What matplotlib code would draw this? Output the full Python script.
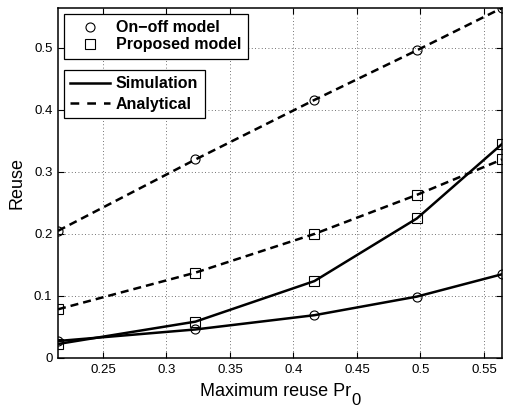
import matplotlib
matplotlib.use("Agg")
import matplotlib.pyplot as plt
from matplotlib.lines import Line2D

plt.rcParams['font.family'] = ['Liberation Sans', 'DejaVu Sans']

x = [0.2146, 0.3228, 0.4165, 0.4972, 0.5642]
onoff_analytical = [0.205, 0.320, 0.416, 0.496, 0.5642]
proposed_analytical = [0.0785, 0.1376, 0.200, 0.263, 0.320]
onoff_simulation = [0.0274, 0.046, 0.069, 0.099, 0.135]
proposed_simulation = [0.0226, 0.0586, 0.124, 0.225, 0.345]

xticks = [0.25, 0.3, 0.35, 0.4, 0.45, 0.5, 0.55]
yticks = [0, 0.1, 0.2, 0.3, 0.4, 0.5]

W, H = 508, 407
fig = plt.figure(figsize=(W/100, H/100), dpi=100)
L, R, T, B = 58, 502, 8, 358
ax = fig.add_axes([L/W, 1-B/H, (R-L)/W, (B-T)/H])

lw = 1.8
dash = (3.2, 2.0)
mk = dict(markersize=6.5, markerfacecolor='none', markeredgecolor='black', markeredgewidth=0.8)
ax.plot(x, onoff_analytical, color='black', lw=lw, dashes=dash, marker='o', **mk)
ax.plot(x, proposed_analytical, color='black', lw=lw, dashes=dash, marker='s', **mk)
ax.plot(x, onoff_simulation, '-', color='black', lw=lw, marker='o', **mk)
ax.plot(x, proposed_simulation, '-', color='black', lw=lw, marker='s', **mk)

ax.set_xlim(x[0], x[-1])
ax.set_ylim(0, onoff_analytical[-1])
ax.set_xticks(xticks)
ax.set_xticklabels([f'{t:g}' for t in xticks])
ax.set_yticks(yticks)
ax.set_yticklabels([f'{t:g}' for t in yticks])
ax.tick_params(direction='in', top=True, right=True, labelsize=9.5, length=4, width=0.8, pad=4)
ax.grid(True, linestyle=(0, (1, 3)), color='#444444', linewidth=0.6)
for s in ax.spines.values():
    s.set_linewidth(1.1)

ax.set_ylabel('Reuse', fontsize=13, labelpad=6)

# x label with large subscript, centred under axes
cx = (L + R) / 2
base_y = 1 - 396.5/H
t1 = fig.text(0, base_y, 'Maximum reuse Pr', fontsize=13, ha='left', va='baseline')
t2 = fig.text(0, 1 - 405/H, '0', fontsize=12, ha='left', va='baseline')
fig.canvas.draw()
r = fig.canvas.get_renderer()
w1 = t1.get_window_extent(r).width
w2 = t2.get_window_extent(r).width
start = cx - (w1 + w2) / 2
t1.set_x(start / W)
t2.set_x((start + w1 + 0.5) / W)

lp = {'weight': 'bold', 'size': 11.5}
common = dict(loc='upper left', fancybox=False, edgecolor='black', framealpha=1,
              prop=lp, handlelength=2.5, handletextpad=0.35, borderpad=0.4,
              borderaxespad=0)
h1 = [Line2D([], [], ls='none', marker='o', **mk),
      Line2D([], [], ls='none', marker='s', **mk)]
leg1 = ax.legend(h1, ['On\u2212off model', 'Proposed model'],
                 bbox_to_anchor=(6/(R-L), 1-6/(B-T)), labelspacing=0.12, **common)
leg1.get_frame().set_linewidth(0.9)
ax.add_artist(leg1)
h2 = [Line2D([], [], ls='-', color='black', lw=lw),
      Line2D([], [], color='black', lw=lw, dashes=(3.5, 3.2))]
leg2 = ax.legend(h2, ['Simulation', 'Analytical'],
                 bbox_to_anchor=(6/(R-L), 1-62/(B-T)), labelspacing=0.35, **common)
leg2.get_frame().set_linewidth(0.9)

fig.savefig('out.png', dpi=100)
